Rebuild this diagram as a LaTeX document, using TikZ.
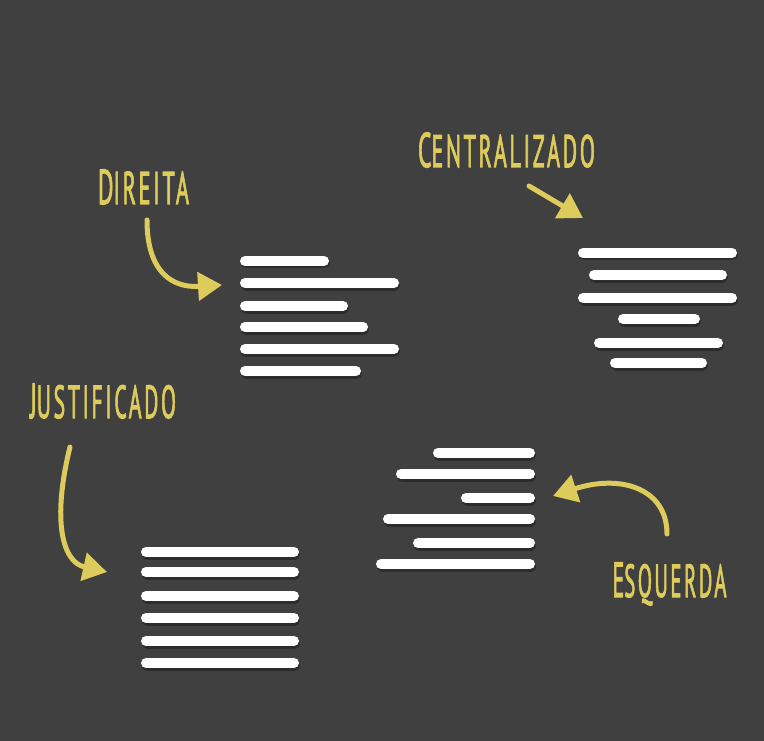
\documentclass[tikz,border=0pt]{standalone}
\usepackage{fontspec}
\usepackage{graphicx}
\usetikzlibrary{arrows.meta}
\newfontfamily\handfont[LetterSpace=12,FakeBold=2.5]{PT Sans}
\definecolor{bgc}{HTML}{404040}
\definecolor{yel}{HTML}{DDCB5B}
\newcommand\handlbl[3]{\resizebox{#1}{34.5pt}{\handfont\fontsize{48}{48}\selectfont #2{\fontsize{45}{45}\selectfont #3}}}
\newcommand\barline[3]{%
  \draw[barshadow] (#1+1,#3+2.5) -- (#2+1,#3+2.5);
  \draw[barstyle] (#1,#3) -- (#2,#3);}
\tikzset{
  barstyle/.style={line width=10pt, line cap=round, white},
  barshadow/.style={line width=10pt, line cap=round, black, opacity=0.3},
  pointer/.style={yel, line width=5pt, line cap=round, -{Triangle[length=24pt,width=28pt]}},
  lbl/.style={inner sep=0pt, anchor=base, text=yel}
}
\begin{document}
\begin{tikzpicture}[x=1pt,y=-1pt]
\fill[bgc] (0,0) rectangle (764,741);
\useasboundingbox (0,0) rectangle (764,741);
% Direita block
\barline{245}{324}{261}
\barline{245}{394}{283}
\barline{245}{343}{306}
\barline{245}{363}{327}
\barline{245}{394}{349}
\barline{245}{356}{371}
% Centralizado block
\barline{583}{732}{253}
\barline{594}{722}{275}
\barline{583}{732}{298}
\barline{623}{695}{319}
\barline{599}{718}{343}
\barline{615}{702}{363}
% Justificado block
\barline{146}{294}{552}
\barline{146}{294}{572}
\barline{146}{294}{596}
\barline{146}{294}{618}
\barline{146}{294}{641}
\barline{146}{294}{663}
% Esquerda block
\barline{438}{530}{453}
\barline{401}{530}{474}
\barline{466}{530}{498}
\barline{388}{530}{519}
\barline{418}{530}{543}
\barline{381}{530}{564}
% labels
\node[lbl] (direita) at (143.5,204) {\handlbl{91pt}{D}{IREITA}};
\node[lbl] (central) at (506.5,167) {\handlbl{177pt}{C}{ENTRALIZADO}};
\node[lbl] (justif) at (103,418) {\handlbl{146pt}{J}{USTIFICADO}};
\node[lbl] (esq) at (669.5,597) {\handlbl{114pt}{E}{SQUERDA}};
% arrow ends
\coordinate (dA) at (147,220);
\coordinate (dB) at (222,285);
\coordinate (cA) at (529,186);
\coordinate (cB) at (583,218);
\coordinate (jA) at (70,447);
\coordinate (jB) at (107,572);
\coordinate (eA) at (667,534);
\coordinate (eB) at (553,496);
\draw[pointer] (dA) .. controls (147,272) and (172,288) .. (dB);
\draw[pointer] (cA) -- (cB);
\draw[pointer] (jA) .. controls (52,520) and (62,562) .. (jB);
\draw[pointer] (eA) .. controls (667,488) and (620,474) .. (eB);
\end{tikzpicture}
\end{document}
